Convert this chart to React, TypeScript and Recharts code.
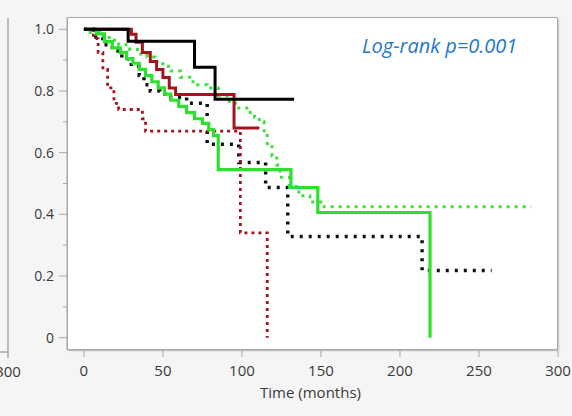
import { LineChart, Line, XAxis, YAxis } from 'recharts'

// survival curves: time (months) and survival
const blackSolidT = [0, 28, 70, 83, 133]
const blackSolidS = [1.0, 0.961, 0.877, 0.773, 0.773]

const redSolidT = [0, 30, 33, 37, 42, 46, 50, 54, 58, 95, 111]
const redSolidS = [1.0, 0.984, 0.958, 0.925, 0.896, 0.87, 0.844, 0.81, 0.789, 0.68, 0.68]

const greenSolidT = [0, 8, 13, 18, 23, 27, 31, 35, 39, 43, 47, 51, 55, 60, 65, 70, 75, 79, 82, 85, 131, 148, 219]
const greenSolidS = [1.0, 0.985, 0.96, 0.94, 0.925, 0.905, 0.89, 0.87, 0.85, 0.83, 0.81, 0.79, 0.77, 0.75, 0.73, 0.71, 0.695, 0.675, 0.655, 0.545, 0.487, 0.406, 0]

const blackDotT = [0, 6, 12, 18, 24, 30, 35, 38, 42, 48, 55, 65, 78, 98, 115, 129, 214, 258]
const blackDotS = [1.0, 0.975, 0.95, 0.93, 0.905, 0.88, 0.85, 0.82, 0.8, 0.79, 0.78, 0.76, 0.627, 0.568, 0.487, 0.328, 0.218, 0.218]

const greenDotT = [0, 4, 10, 16, 22, 29, 35, 40, 45, 50, 55, 61, 67, 72, 78, 85, 92, 98, 103, 108, 111, 114, 116, 119, 122, 124, 130, 136, 143, 151, 283]
const greenDotS = [1.0, 0.99, 0.98, 0.965, 0.95, 0.935, 0.92, 0.91, 0.895, 0.88, 0.865, 0.845, 0.83, 0.82, 0.81, 0.785, 0.76, 0.745, 0.73, 0.715, 0.7, 0.665, 0.63, 0.59, 0.56, 0.52, 0.49, 0.46, 0.44, 0.425, 0.425]

const redDotT = [0, 6, 9, 12, 15, 19, 22, 37, 39, 99, 116]
const redDotS = [1.0, 0.97, 0.925, 0.87, 0.81, 0.76, 0.74, 0.71, 0.67, 0.34, 0]

const xTicks = [0, 50, 100, 150, 200, 250, 300]
const yTicks = [0, 0.1, 0.2, 0.3, 0.4, 0.5, 0.6, 0.7, 0.8, 0.9, 1.0]
const yMajor = [0, 0.2, 0.4, 0.6, 0.8, 1.0]

const pText = 'Log-rank p=0.001'
const xTitle = 'Time (months)'

const toPts = (t: number[], s: number[]) => t.map((v, i) => ({ t: v, s: s[i] }))

const AXIS = '#a8a8a8'
const TXT = '#3a3a3a'
const FONT = '"Open Sans", sans-serif'

function YTick(props: any) {
  const { x, y, payload } = props
  const v = payload.value
  const major = yMajor.some(m => Math.abs(m - v) < 1e-6)
  return (
    <g>
      <line x1={major ? x + 5 : x + 9} x2={x + 13} y1={y} y2={y} stroke={AXIS} strokeWidth={1} />
      {major && (
        <text x={x} y={y} dy="0.35em" textAnchor="end" fontSize={14} fill={TXT} fontFamily={FONT}>
          {v === 0 ? '0' : v.toFixed(1)}
        </text>
      )}
    </g>
  )
}

export default function App() {
  return (
    <div style={{ position: 'fixed', left: 0, top: 0, width: 572, height: 416, background: '#f5f5f5', overflow: 'hidden' }}>
      {/* edge of the neighbouring panel */}
      <svg width={572} height={416} style={{ position: 'absolute', left: 0, top: 0 }}>
        <line x1={8} x2={8} y1={18} y2={358} stroke={AXIS} strokeWidth={1.5} />
        <line x1={0} x2={8} y1={352} y2={352} stroke={AXIS} strokeWidth={1.5} />
        <text x={8} y={377} textAnchor="middle" fontSize={15} fill={TXT} fontFamily={FONT}>300</text>
      </svg>
      <div style={{
        position: 'absolute', left: 67, top: 17, width: 491, height: 333,
        background: '#fff', border: `1px solid ${AXIS}`, boxSizing: 'border-box',
        borderRadius: 2, boxShadow: '1px 1px 2px rgba(0,0,0,0.2)',
      }} />
      <div style={{ position: 'absolute', left: 0, top: 0 }}>
        <LineChart width={572} height={416} margin={{ top: 17, right: 14, left: 0, bottom: 0 }}>
          <XAxis
            type="number"
            dataKey="t"
            domain={[-10.7, 300]}
            ticks={xTicks}
            allowDataOverflow
            height={66}
            stroke={AXIS}
            tickSize={7}
            tickMargin={8}
            tick={{ fontSize: 15, fill: TXT, fontFamily: FONT }}
            label={{ value: xTitle, position: 'insideBottom', offset: 18, fontSize: 15, fill: TXT, fontFamily: FONT, dx: -2 }}
          />
          <YAxis
            type="number"
            dataKey="s"
            domain={[-0.04, 1.04]}
            ticks={yTicks}
            allowDataOverflow
            width={67}
            stroke={AXIS}
            tickLine={false}
            tickSize={8}
            tickMargin={5}
            tick={<YTick />}
          />
          <Line data={toPts(blackDotT, blackDotS)} dataKey="s" type="stepAfter" stroke="#111" strokeWidth={3.5} strokeDasharray="3 6" dot={false} isAnimationActive={false} />
          <Line data={toPts(greenDotT, greenDotS)} dataKey="s" type="stepAfter" stroke="#3ee03e" strokeWidth={3} strokeDasharray="3 5" dot={false} isAnimationActive={false} />
          <Line data={toPts(redDotT, redDotS)} dataKey="s" type="stepAfter" stroke="#a3141f" strokeWidth={2.8} strokeDasharray="3 4" dot={false} isAnimationActive={false} />
          <Line data={toPts(greenSolidT, greenSolidS)} dataKey="s" type="stepAfter" stroke="#2ee02e" strokeWidth={3.2} dot={false} isAnimationActive={false} />
          <Line data={toPts(redSolidT, redSolidS)} dataKey="s" type="stepAfter" stroke="#a3141f" strokeWidth={3} dot={false} isAnimationActive={false} />
          <Line data={toPts(blackSolidT, blackSolidS)} dataKey="s" type="stepAfter" stroke="#000" strokeWidth={3} dot={false} isAnimationActive={false} />
        </LineChart>
      </div>
      <div style={{
        position: 'absolute', left: 362, top: 33, fontSize: 20, fontStyle: 'italic',
        color: '#1f78c8', fontFamily: FONT, whiteSpace: 'nowrap', lineHeight: '26px',
      }}>
        {pText}
      </div>
    </div>
  )
}
